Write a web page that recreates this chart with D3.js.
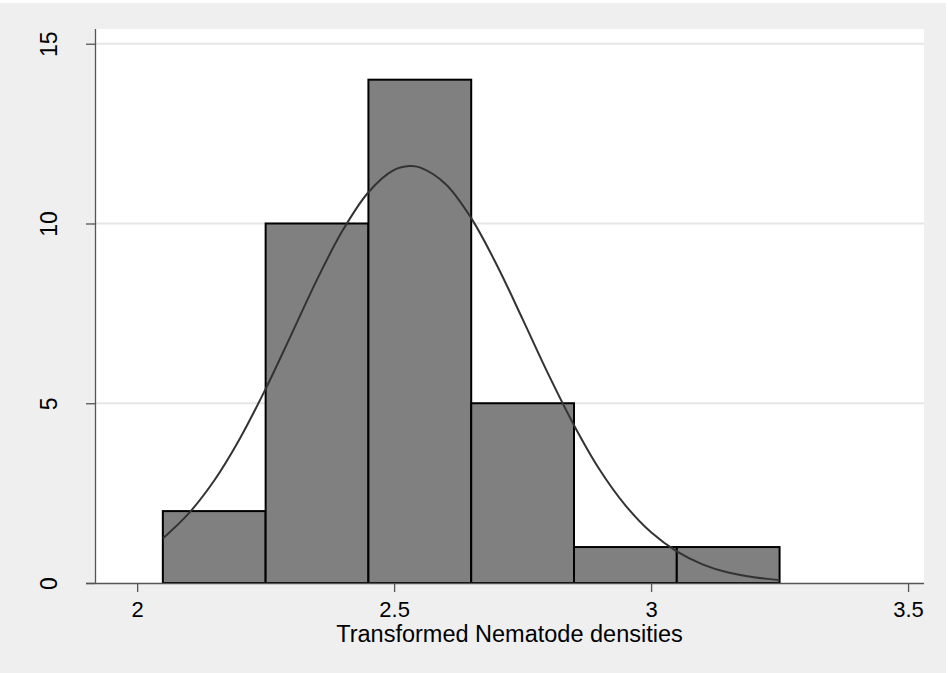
<!DOCTYPE html>
<meta charset="utf-8">
<style>
body { margin: 0; background: #fff; }
text { font-family: "Liberation Sans", Arial, sans-serif; fill: #000; }
.bar { fill: #808080; stroke: #000; stroke-width: 2px; }
.curve { fill: none; stroke: #333; stroke-width: 2px; }
.grid line { stroke: #e6e6e6; stroke-width: 2px; }
.axis path, .axis line { stroke: #555; stroke-width: 1.3px; }
</style>
<svg width="948" height="673"></svg>
<script src="https://d3js.org/d3.v7.min.js"></script>
<script>

// histogram bins (lower edge, upper edge) and counts
var binStart = [2.05, 2.25, 2.45, 2.65, 2.85, 3.05];
var binEnd   = [2.25, 2.45, 2.65, 2.85, 3.05, 3.25];
var counts   = [2, 10, 14, 5, 1, 1];

// normal overlay
var curveX = [2.05, 2.10, 2.15, 2.20, 2.25, 2.30, 2.35, 2.40, 2.45, 2.50, 2.53, 2.55, 2.60,
              2.65, 2.70, 2.75, 2.80, 2.85, 2.90, 2.95, 3.00, 3.05, 3.10, 3.15, 3.20, 3.25];
var curveY = [1.24, 1.93, 2.85, 4.02, 5.40, 6.91, 8.44, 9.81, 10.87, 11.49, 11.60, 11.56, 11.10,
              10.15, 8.84, 7.34, 5.81, 4.39, 3.15, 2.16, 1.41, 0.88, 0.52, 0.29, 0.16, 0.08];

var xTicks = [2, 2.5, 3, 3.5];
var yTicks = [0, 5, 10, 15];
var xTitle = "Transformed Nematode densities";

var svg = d3.select("svg"),
    margin = {top: 29, right: 24, bottom: 90, left: 95},
    width = +svg.attr("width") - margin.left - margin.right,
    height = +svg.attr("height") - margin.top - margin.bottom;

// outer background
svg.append("rect")
    .attr("x", 0).attr("y", 3)
    .attr("width", 946).attr("height", 670)
    .attr("fill", "#efefef");

var x = d3.scaleLinear().domain([1.918, 3.531]).range([0, width]);
var y = d3.scaleLinear().domain([0, 15.41]).range([height, 0]);

var g = svg.append("g")
    .attr("transform", "translate(" + margin.left + "," + margin.top + ")");

g.append("rect")
    .attr("width", width)
    .attr("height", height)
    .attr("fill", "#fff");

// horizontal grid
g.append("g")
    .attr("class", "grid")
    .selectAll("line")
    .data(yTicks.filter(function(d) { return d > 0; }))
    .enter().append("line")
    .attr("x1", 0).attr("x2", width)
    .attr("y1", function(d) { return y(d); })
    .attr("y2", function(d) { return y(d); });

// bars
g.selectAll(".bar")
    .data(counts)
    .enter().append("rect")
    .attr("class", "bar")
    .attr("x", function(d, i) { return x(binStart[i]); })
    .attr("y", function(d) { return y(d); })
    .attr("width", function(d, i) { return x(binEnd[i]) - x(binStart[i]); })
    .attr("height", function(d) { return y(0) - y(d); });

// normal density
var line = d3.line()
    .x(function(d, i) { return x(curveX[i]); })
    .y(function(d) { return y(d); })
    .curve(d3.curveCatmullRom);

g.append("path")
    .datum(curveY)
    .attr("class", "curve")
    .attr("d", line);

// axes
var xAxis = d3.axisBottom(x).tickValues(xTicks).tickSize(9).tickSizeOuter(0)
    .tickFormat(function(d) { return d; });
var yAxis = d3.axisLeft(y).tickValues(yTicks).tickSize(9).tickSizeOuter(0)
    .tickFormat(function(d) { return d; });

var gx = g.append("g")
    .attr("class", "axis")
    .attr("transform", "translate(0," + height + ")")
    .call(xAxis);
gx.select(".domain").attr("d", "M-9,0.5H" + width);
gx.selectAll("text")
    .attr("y", 0)
    .attr("dy", 0)
    .attr("transform", "translate(0,33.5)")
    .style("font-size", "22px")
    .style("font-family", "'Liberation Sans', Arial, sans-serif")
    .attr("fill", "#000");

var gy = g.append("g")
    .attr("class", "axis")
    .call(yAxis);
gy.select(".domain").attr("d", "M0.5,0V" + height);
gy.selectAll(".tick text")
    .attr("x", 0)
    .attr("dy", 0)
    .attr("text-anchor", "middle")
    .attr("transform", "translate(-38,0) rotate(-90)")
    .style("font-size", "23px")
    .style("font-family", "'Liberation Sans', Arial, sans-serif")
    .attr("fill", "#000");

// x title, centred on the plot region
g.append("text")
    .attr("x", width / 2)
    .attr("y", height + 59)
    .attr("text-anchor", "middle")
    .style("font-size", "23.5px")
    .text(xTitle);

</script>
</html>
